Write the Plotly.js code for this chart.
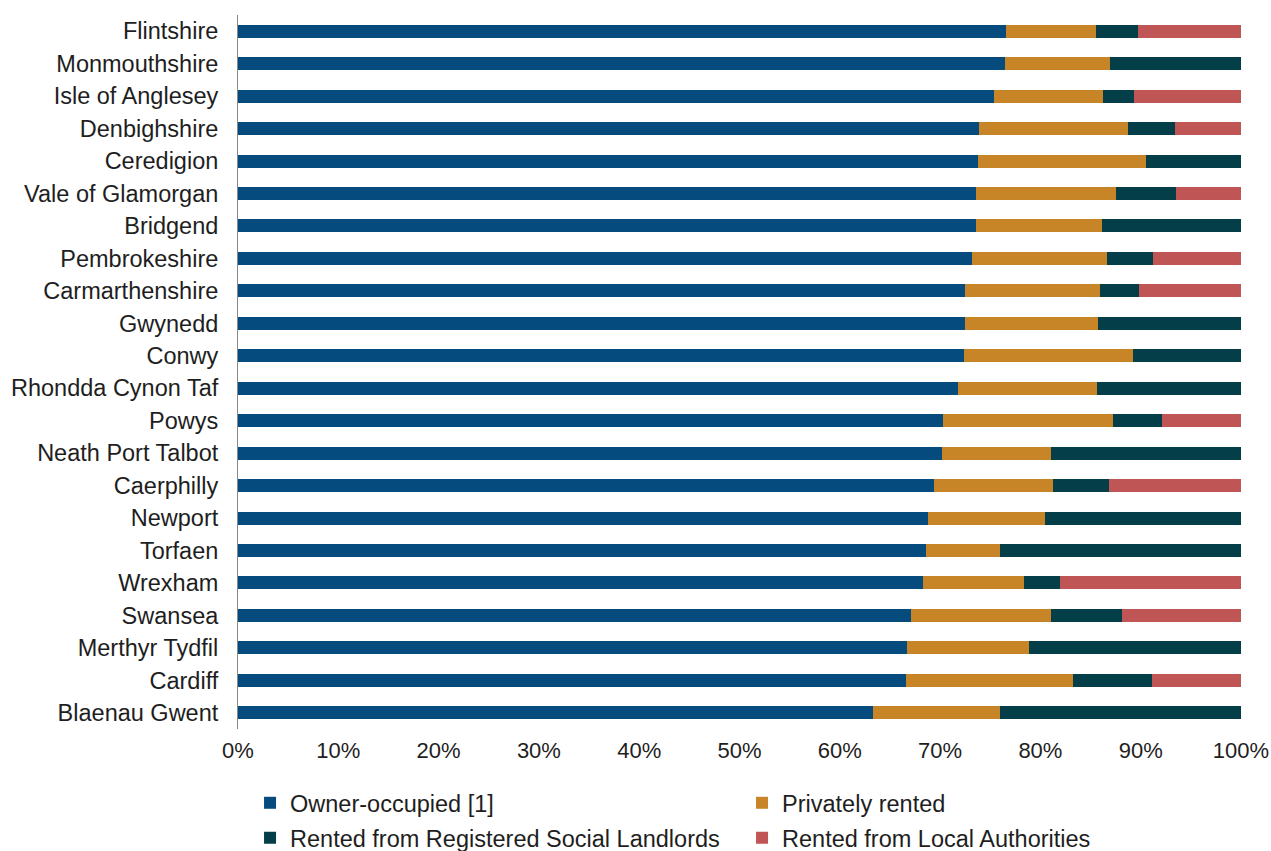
<!DOCTYPE html>
<html>
<head>
<meta charset="utf-8">
<script src="https://cdn.plot.ly/plotly-3.0.1.min.js"></script>
<style>html,body{margin:0;padding:0;background:#fff;}#chart{width:1271px;height:851px;}</style>
</head>
<body>
<div id="chart"></div>
<script>
const areas = ["Flintshire","Monmouthshire","Isle of Anglesey","Denbighshire","Ceredigion","Vale of Glamorgan","Bridgend","Pembrokeshire","Carmarthenshire","Gwynedd","Conwy","Rhondda Cynon Taf","Powys","Neath Port Talbot","Caerphilly","Newport","Torfaen","Wrexham","Swansea","Merthyr Tydfil","Cardiff","Blaenau Gwent"];
const ownerOccupied = [76.6,76.5,75.4,73.9,73.8,73.6,73.6,73.2,72.5,72.5,72.4,71.8,70.3,70.2,69.4,68.8,68.6,68.3,67.1,66.7,66.6,63.3];
const privatelyRented = [8.9,10.4,10.8,14.8,16.7,13.9,12.5,13.4,13.4,13.2,16.8,13.8,16.9,10.9,11.9,11.7,7.4,10.1,14.0,12.2,16.6,12.7];
const rentedRSL = [4.2,13.1,3.1,4.7,9.5,6.0,13.9,4.6,3.9,14.3,10.8,14.4,4.9,18.9,5.5,19.5,24.0,3.6,7.0,21.1,7.9,24.0];
const rentedLA = [10.3,0,10.7,6.6,0,6.5,0,8.8,10.2,0,0,0,7.9,0,13.2,0,0,18.0,11.9,0,8.9,0];
const seriesNames = ["Owner-occupied [1]","Privately rented","Rented from Registered Social Landlords","Rented from Local Authorities"];
const xTickVals = [0,10,20,30,40,50,60,70,80,90,100];
const xTickText = ["0%","10%","20%","30%","40%","50%","60%","70%","80%","90%","100%"];

const colors = ["#064B7E","#C78528","#033E49","#C05555"];
const legendIds = ["legend","legend","legend2","legend2"];
const data = [ownerOccupied, privatelyRented, rentedRSL, rentedLA].map((vals,i)=>({
  type:'bar', orientation:'h', name:seriesNames[i], y:areas, x:vals,
  marker:{color:colors[i], line:{width:0}}, width:0.4, legend:legendIds[i]
}));

const fam = '"Liberation Sans", Arial, sans-serif';
const tickFont = {family:fam, size:22, color:'#1e1e1e'};
const labFont = {family:fam, size:23.5, color:'#1e1e1e'};
const legBase = {orientation:'h', x:0.012, xanchor:'left', yref:'container', yanchor:'middle', traceorder:'normal', entrywidth:447, entrywidthmode:'pixels', font:labFont, itemwidth:30, bgcolor:'rgba(0,0,0,0)'};
const layout = {
  width:1271, height:851,
  barmode:'stack',
  margin:{l:238, r:30, t:15, b:122},
  paper_bgcolor:'#fff', plot_bgcolor:'#fff',
  font:tickFont,
  showlegend:true,
  xaxis:{range:[0,100], tickvals:xTickVals, ticktext:xTickText, showgrid:false, zeroline:false, showline:false, ticks:'', tickfont:tickFont, ticklabelstandoff:6, fixedrange:true},
  yaxis:{categoryorder:'array', categoryarray:areas, autorange:'reversed', showgrid:false, zeroline:false, showline:true, linecolor:'#888', linewidth:1, ticks:'', ticklen:0, tickfont:labFont, ticklabelstandoff:14, fixedrange:true},
  legend:Object.assign({}, legBase, {y:0.0564}),
  legend2:Object.assign({}, legBase, {y:0.0153})
};
Plotly.newPlot('chart', data, layout, {displayModeBar:false, staticPlot:true});
</script>
</body>
</html>
